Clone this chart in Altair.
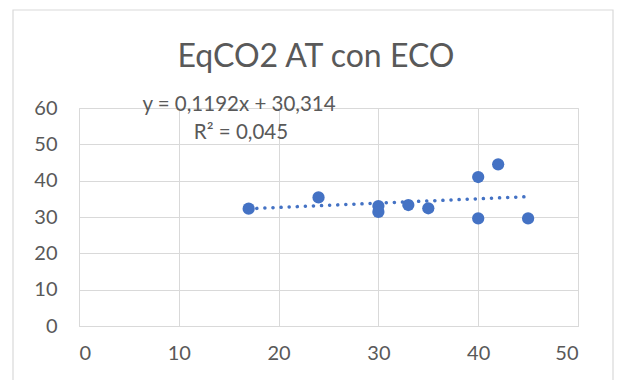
import altair as alt
import pandas as pd

x_vals = [17, 24, 30, 30, 33, 35, 40, 42, 40, 45]
y_vals = [32.3, 35.4, 33.0, 31.4, 33.3, 32.4, 41.0, 44.5, 29.6, 29.6]
x_ticks = [0, 10, 20, 30, 40, 50]
y_ticks = [0, 10, 20, 30, 40, 50, 60]
title_text = "EqCO2 AT con ECO"
eq_text = "y = 0,1192x + 30,314"
r2_text = "R² = 0,045"

df = pd.DataFrame({"x": x_vals, "y": y_vals})
FONT = "Lato"
GRAY = "#595959"
BLUE = "#4472C4"

base = alt.Chart(df)

xscale = alt.Scale(domain=[0, 50], nice=False, zero=False)
yscale = alt.Scale(domain=[0, 60], nice=False, zero=False)

xaxis = alt.Axis(values=x_ticks, title=None, grid=True, ticks=False,
                 domain=True, domainColor="#d9d9d9", gridColor="#d9d9d9",
                 labelFont=FONT, labelFontSize=20, labelColor=GRAY,
                 labelPadding=17, labelOverlap=False)
yaxis = alt.Axis(values=y_ticks, title=None, grid=True, ticks=False,
                 domain=False, gridColor="#d9d9d9",
                 labelFont=FONT, labelFontSize=20, labelColor=GRAY,
                 labelPadding=22, labelOverlap=False)

points = base.mark_circle(size=150, opacity=1, color=BLUE).encode(
    x=alt.X("x:Q", scale=xscale, axis=xaxis),
    y=alt.Y("y:Q", scale=yscale, axis=yaxis),
)

trend = base.transform_regression("x", "y").mark_line(
    color=BLUE, strokeWidth=3.5, strokeDash=[0.1, 8], strokeCap="round"
).encode(x=alt.X("x:Q", scale=xscale, axis=xaxis),
         y=alt.Y("y:Q", scale=yscale, axis=yaxis))

border = alt.Chart(pd.DataFrame({"a": [0]})).mark_rect(
    fill=None, stroke="#d9d9d9", strokeWidth=1.2
).encode(x=alt.value(-66), x2=alt.value(534), y=alt.value(-98), y2=alt.value(300))

def txt(s, x, y, size):
    return alt.Chart(pd.DataFrame({"t": [s]})).mark_text(
        font=FONT, fontSize=size, color=GRAY, align="center", baseline="middle"
    ).encode(text="t:N", x=alt.value(x), y=alt.value(y))

chart = alt.layer(
    border, points, trend,
    txt(title_text, 237, -51, 32),
    txt(eq_text, 160, -3, 20.5),
    txt(r2_text, 162, 25, 20.5),
).properties(
    width=499, height=218,
    padding={"left": 79, "top": 108, "right": 43, "bottom": 54},
    autosize=alt.AutoSizeParams(type="none"),
).configure_view(stroke=None).configure(background="white")

chart.save("out.html", embed_options={"renderer": "svg", "actions": False})
